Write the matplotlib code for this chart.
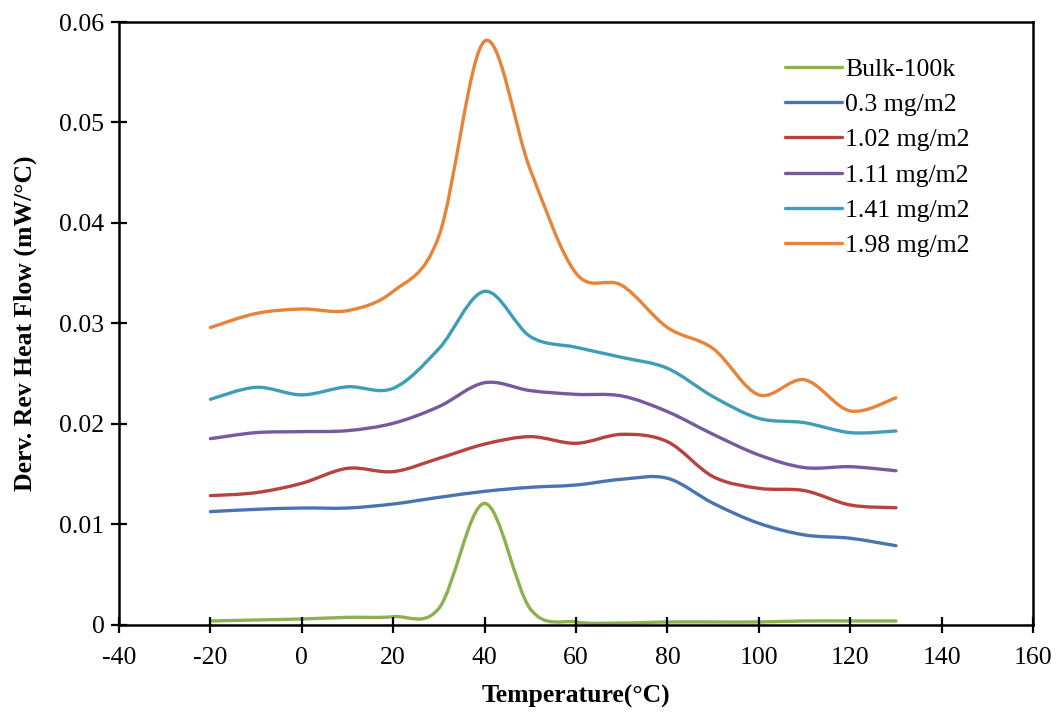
import matplotlib
matplotlib.use("Agg")
import matplotlib.pyplot as plt
from matplotlib.path import Path
from matplotlib.patches import PathPatch
from matplotlib.lines import Line2D

temps = [-20, -10, 0, 10, 20, 30, 40, 50, 60, 70, 80, 90, 100, 110, 120, 130]

bulk = [0.0004, 0.0005, 0.0006, 0.00076, 0.00083, 0.00166, 0.0121, 0.0016,
        0.0003, 0.0002, 0.0003, 0.0003, 0.0003, 0.0004, 0.0004, 0.0004]
s030 = [0.01128, 0.01151, 0.01164, 0.01164, 0.01204, 0.0127, 0.0133, 0.0137,
        0.01393, 0.0145, 0.0146, 0.01211, 0.01012, 0.00896, 0.00863, 0.00789]
s102 = [0.01287, 0.01317, 0.0141, 0.01559, 0.01526, 0.01658, 0.0180, 0.01874,
        0.01808, 0.01897, 0.01824, 0.01476, 0.0136, 0.01337, 0.01194, 0.01167]
s111 = [0.01854, 0.01914, 0.01924, 0.01934, 0.02007, 0.02173, 0.02411, 0.02332,
        0.02295, 0.02279, 0.02123, 0.01897, 0.01692, 0.01566, 0.01575, 0.01535]
s141 = [0.02246, 0.02365, 0.0229, 0.0237, 0.02355, 0.0275, 0.0332, 0.0287,
        0.02763, 0.02663, 0.02554, 0.02272, 0.02056, 0.02013, 0.01914, 0.0193]
s198 = [0.0296, 0.0310, 0.03144, 0.03128, 0.0332, 0.0387, 0.0581, 0.0453,
        0.0350, 0.0338, 0.0296, 0.0275, 0.0229, 0.0244, 0.0213, 0.0226]

labels = ["Bulk-100k", "0.3 mg/m2", "1.02 mg/m2", "1.11 mg/m2", "1.41 mg/m2", "1.98 mg/m2"]
series = [bulk, s030, s102, s111, s141, s198]
colors = ["#8FB04F", "#4A74B0", "#B5443F", "#77599D", "#3E9DB8", "#E6843A"]


def smooth_path(x, y):
    # Excel-style smoothed line: cubic Bezier segments through the points
    pts = list(zip(x, y))
    n = len(pts)
    verts = [pts[0]]
    codes = [Path.MOVETO]
    for i in range(n - 1):
        p0 = pts[i - 1] if i > 0 else pts[i]
        p1 = pts[i]
        p2 = pts[i + 1]
        p3 = pts[i + 2] if i + 2 < n else pts[i + 1]
        c1 = (p1[0] + (p2[0] - p0[0]) / 6, p1[1] + (p2[1] - p0[1]) / 6)
        c2 = (p2[0] - (p3[0] - p1[0]) / 6, p2[1] - (p3[1] - p1[1]) / 6)
        verts += [c1, c2, p2]
        codes += [Path.CURVE4] * 3
    return Path(verts, codes)


plt.rcParams['font.family'] = ['Liberation Serif', 'DejaVu Serif']
plt.rcParams['axes.unicode_minus'] = False

fig = plt.figure(figsize=(10.58, 7.12), dpi=100)
ax = fig.add_axes([0.1125, 0.1222, 0.8639, 0.8469])

lw = 2.4
handles = []
for ys, c, lab in zip(series, colors, labels):
    ax.add_patch(PathPatch(smooth_path(temps, ys), facecolor="none", edgecolor=c,
                           lw=lw, capstyle="round", joinstyle="round"))
    handles.append(Line2D([], [], color=c, lw=lw, solid_capstyle="round", label=lab))

ax.set_xlim(-40, 160)
ax.set_ylim(0, 0.06)
ax.set_xticks(range(-40, 161, 20))
ax.set_yticks([0, 0.01, 0.02, 0.03, 0.04, 0.05, 0.06])
ax.set_yticklabels(["0", "0.01", "0.02", "0.03", "0.04", "0.05", "0.06"])
ax.tick_params(direction="inout", length=11, width=1.6, labelsize=18.5)
ax.tick_params(axis="x", pad=10)
ax.tick_params(axis="y", pad=5)
for s in ax.spines.values():
    s.set_linewidth(1.8)

ax.set_xlabel("Temperature(°C)", fontsize=18.5, fontweight="bold", labelpad=12)
ax.set_ylabel("Derv. Rev Heat Flow (mW/°C)", fontsize=18.5, fontweight="bold", labelpad=16)

ax.legend(handles=handles, loc="upper left", bbox_to_anchor=(0.715, 0.962),
          frameon=False, fontsize=18.5, handlelength=2.2, handletextpad=0.12,
          labelspacing=0.48, borderpad=0)

fig.savefig("out.png", dpi=100)
